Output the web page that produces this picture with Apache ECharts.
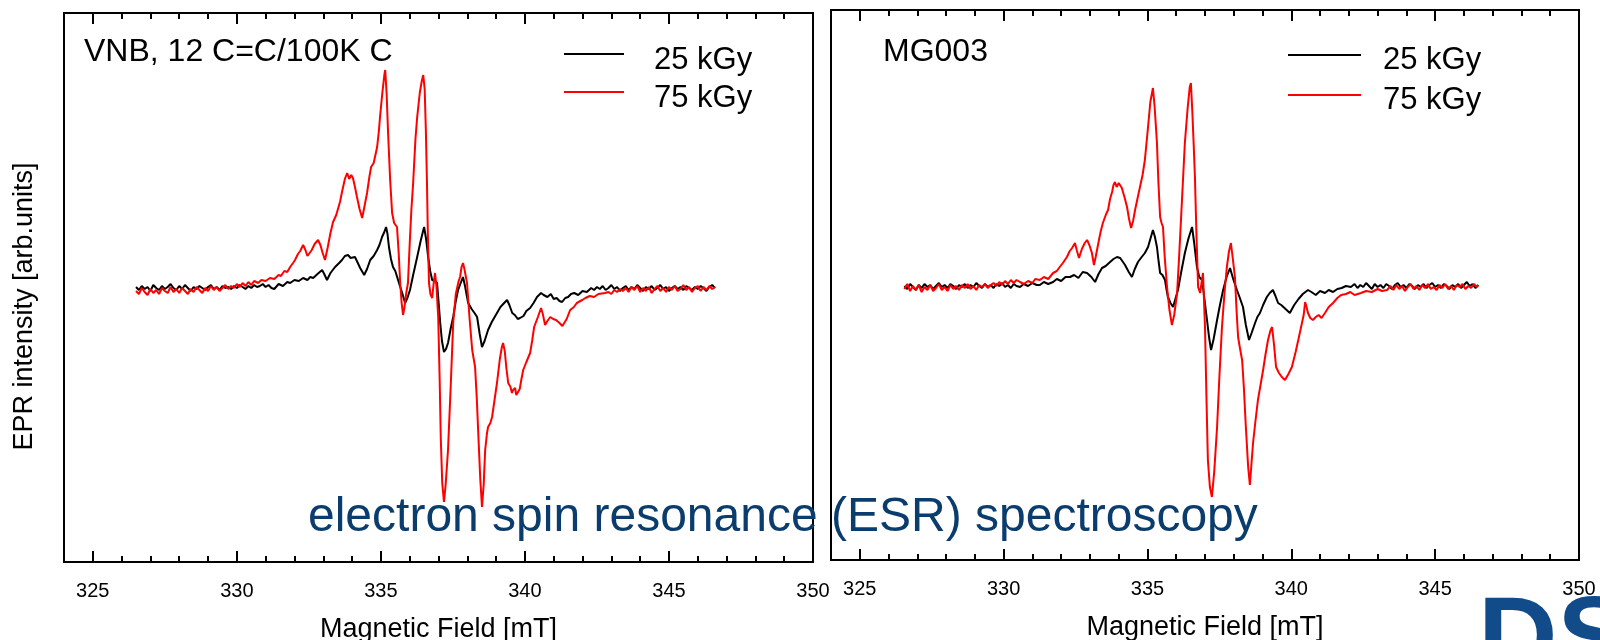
<!DOCTYPE html>
<html>
<head>
<meta charset="utf-8">
<script src="https://cdn.jsdelivr.net/npm/echarts@6/dist/echarts.min.js"></script>
<style>
html,body{margin:0;padding:0;background:#fff;}
#chart{width:1600px;height:640px;}
</style>
</head>
<body>
<div id="chart"></div>
<script>
// ---------- data (x: magnetic field in mT, y: EPR intensity, arb. units) ----------
const majorTicks = [325, 330, 335, 340, 345, 350];
const minorTicks = [326,327,328,329,331,332,333,334,336,337,338,339,341,342,343,344,346,347,348,349];
const seriesNames = ['25 kGy', '75 kGy'];
const panelTitles = ['VNB, 12 C=C/100K C', 'MG003'];

const vnb25 = [
[326.5,2],[326.6,-1],[326.7,3],[326.8,0],[326.9,2],[327.0,-2],[327.1,4],[327.2,1],[327.3,-1],[327.4,3],
[327.5,0],[327.6,2],[327.7,5],[327.8,1],[327.9,-1],[328.0,3],[328.1,0],[328.2,4],[328.3,1],[328.4,-2],
[328.5,2],[328.6,0],[328.7,3],[328.8,1],[328.9,-1],[329.0,2],[329.1,4],[329.2,0],[329.3,2],[329.4,-1],
[329.5,3],[329.6,1],[329.7,2],[329.8,0],[329.9,3],[330.0,1],[330.1,4],[330.2,2],[330.3,0],[330.4,3],
[330.5,1],[330.6,4],[330.7,2],[330.8,3],[330.9,5],[331.0,2],[331.1,4],[331.2,1],[331.3,0],
[331.45,5],[331.6,3],[331.75,7],[331.85,6],[332.0,9],[332.15,8],[332.3,11],[332.45,9],[332.55,12],[332.65,11],
[332.8,15],[332.96,19],[333.05,14],[333.13,9],[333.25,16],[333.41,22],[333.55,26],[333.65,29],[333.75,33],[333.86,34],
[333.95,31],[334.10,32],[334.2,26],[334.28,21],[334.42,14],[334.52,20],[334.63,29],[334.75,33],[334.87,39],[334.95,44],
[335.04,52],[335.12,57],[335.18,62],[335.23,55],[335.28,42],[335.35,30],[335.42,22],[335.5,18],[335.56,16],[335.65,4],
[335.74,-4],[335.84,-14],[335.92,-9],[336.01,-1],[336.12,14],[336.26,32],[336.38,48],[336.5,62],[336.57,50],[336.64,32],
[336.71,18],[336.78,9],[336.88,8],[336.95,6],[337.0,-12],[337.06,-34],[337.12,-52],[337.19,-63],[337.26,-60],[337.33,-54],
[337.42,-40],[337.51,-28],[337.6,-12],[337.68,-1],[337.77,6],[337.85,12],[337.92,3],[338.03,-14],[338.15,-20],[338.25,-24],
[338.34,-28],[338.43,-45],[338.51,-58],[338.6,-52],[338.72,-41],[338.85,-33],[338.95,-28],[339.03,-24],[339.15,-18],[339.28,-14],
[339.38,-11],[339.46,-16],[339.56,-24],[339.65,-26],[339.75,-30],[339.83,-29],[339.95,-27],[340.05,-22],[340.18,-19],[340.3,-14],
[340.42,-8],[340.56,-4],[340.65,-6],[340.78,-8],[340.9,-5],[341.0,-10],[341.1,-9],[341.2,-12],[341.29,-13],[341.4,-9],
[341.5,-8],[341.6,-5],[341.71,-4],[341.85,-6],[342.0,-2],[342.15,-3],[342.3,1],[342.4,-1],[342.5,2],
[342.6,0],[342.7,3],[342.8,-1],[342.9,1],[343.0,4],[343.1,0],[343.2,2],[343.3,-2],[343.4,1],[343.5,3],
[343.6,-1],[343.7,2],[343.8,0],[343.9,4],[344.0,1],[344.1,-2],[344.2,2],[344.3,0],[344.4,3],[344.5,-1],
[344.6,1],[344.7,4],[344.8,0],[344.9,2],[345.0,-2],[345.1,1],[345.2,3],[345.3,0],[345.4,2],[345.5,-1],
[345.6,3],[345.7,1],[345.8,-1],[345.9,2],[346.0,0],[346.1,3],[346.2,1],[346.3,-2],[346.4,2],[346.5,4],[346.6,1]
];

const vnb75 = [
[326.5,-2],[326.6,-5],[326.7,1],[326.8,-3],[326.9,-6],[327.0,0],[327.1,-4],[327.2,-1],[327.3,-5],[327.4,1],
[327.5,-2],[327.6,-4],[327.7,2],[327.8,-3],[327.9,0],[328.0,-4],[328.1,1],[328.2,-2],[328.3,-5],[328.4,0],
[328.5,-3],[328.6,2],[328.7,-1],[328.8,-4],[328.9,1],[329.0,-2],[329.1,3],[329.2,-1],[329.3,2],[329.4,-2],
[329.5,1],[329.6,4],[329.7,0],[329.8,3],[329.9,1],[330.0,5],[330.1,2],[330.2,6],[330.3,3],[330.4,7],
[330.5,4],[330.6,8],[330.74,6],[330.85,9],[331.0,8],[331.15,11],[331.3,10],[331.45,14],[331.53,13],[331.65,18],
[331.75,17],[331.85,22],[331.95,26],[332.02,29],[332.12,35],[332.2,38],[332.3,44],[332.38,39],[332.45,33],[332.51,31],
[332.6,39],[332.7,45],[332.82,49],[332.9,44],[332.98,36],[333.06,29],[333.15,41],[333.25,56],[333.34,67],[333.45,74],
[333.58,87],[333.65,97],[333.75,110],[333.83,116],[333.9,110],[333.97,114],[334.03,111],[334.1,102],[334.17,92],[334.26,80],
[334.35,71],[334.44,84],[334.52,96],[334.6,112],[334.66,122],[334.75,126],[334.87,142],[334.93,158],[334.97,172],[335.05,196],
[335.12,214],[335.15,219],[335.2,195],[335.25,156],[335.32,110],[335.39,76],[335.46,66],[335.56,62],[335.62,35],[335.67,6],
[335.72,-14],[335.77,-26],[335.82,-18],[335.88,-4],[335.94,6],[336.0,45],[336.06,80],[336.12,106],[336.2,150],[336.26,172],
[336.35,196],[336.42,208],[336.47,214],[336.52,200],[336.56,160],[336.6,106],[336.63,55],[336.67,6],[336.72,-5],[336.78,-9],
[336.83,5],[336.88,16],[336.93,2],[336.99,-28],[337.04,-90],[337.08,-150],[337.13,-194],[337.19,-213],[337.25,-195],[337.33,-161],
[337.42,-100],[337.51,-34],[337.6,-5],[337.7,8],[337.75,12],[337.8,22],[337.85,26],[337.9,20],[337.99,6],[338.08,-30],
[338.17,-61],[338.27,-78],[338.33,-110],[338.38,-144],[338.45,-190],[338.51,-218],[338.57,-195],[338.62,-161],[338.68,-145],[338.72,-138],
[338.8,-134],[338.86,-128],[338.95,-110],[339.03,-94],[339.13,-70],[339.2,-58],[339.24,-54],[339.3,-62],[339.36,-80],[339.42,-94],
[339.5,-98],[339.55,-104],[339.59,-101],[339.66,-99],[339.7,-106],[339.76,-108],[339.82,-100],[339.88,-90],[339.94,-81],[340.05,-73],
[340.18,-64],[340.25,-52],[340.32,-38],[340.45,-28],[340.56,-19],[340.62,-25],[340.7,-36],[340.78,-32],[340.88,-28],[340.98,-30],
[341.08,-31],[341.2,-34],[341.3,-37],[341.36,-39],[341.45,-30],[341.57,-21],[341.7,-18],[341.8,-14],[341.99,-11],[342.1,-9],
[342.25,-7],[342.4,-8],[342.55,-5],[342.78,-4],[342.9,-3],[343.0,-5],[343.1,-1],[343.2,-3],[343.3,0],[343.4,-2],
[343.5,1],[343.6,-3],[343.7,2],[343.8,-1],[343.9,3],[344.0,-3],[344.1,1],[344.2,-2],[344.3,2],[344.4,-4],
[344.5,0],[344.6,3],[344.7,-2],[344.8,1],[344.9,-3],[345.0,2],[345.1,-1],[345.2,3],[345.3,-2],[345.4,0],
[345.5,4],[345.6,-1],[345.7,2],[345.8,-3],[345.9,1],[346.0,3],[346.1,-2],[346.2,2],[346.3,-1],[346.4,3],[346.5,0],[346.6,2]
];

const mg25 = [
[326.55,1],[326.65,-2],[326.75,3],[326.85,0],[326.95,-3],[327.05,2],[327.15,-1],[327.25,3],[327.35,0],[327.45,2],
[327.55,-2],[327.65,1],[327.75,4],[327.85,0],[327.95,2],[328.05,-1],[328.15,3],[328.25,1],[328.35,-2],[328.45,2],
[328.55,0],[328.65,3],[328.75,-1],[328.85,2],[328.95,0],[329.05,4],[329.15,1],[329.25,-1],[329.35,3],[329.45,0],
[329.55,2],[329.65,-1],[329.75,3],[329.85,1],[329.95,4],[330.05,0],[330.15,2],[330.25,-1],[330.35,3],[330.45,1],
[330.57,0],[330.7,3],[330.85,1],[331.0,4],[331.15,2],[331.26,2],[331.4,5],[331.55,3],[331.72,5],[331.85,8],
[332.0,6],[332.15,10],[332.31,10],[332.45,12],[332.6,9],[332.75,15],[332.9,14],[333.05,10],[333.18,5],[333.3,13],
[333.42,19],[333.55,21],[333.7,25],[333.82,28],[333.94,30],[334.05,29],[334.15,25],[334.22,22],[334.35,15],[334.46,10],
[334.56,18],[334.67,25],[334.8,30],[334.91,34],[335.02,40],[335.12,50],[335.19,57],[335.26,50],[335.33,40],[335.39,25],
[335.44,14],[335.52,12],[335.61,7],[335.66,-2],[335.71,-10],[335.8,-16],[335.89,-20],[335.97,-12],[336.06,-3],[336.18,16],
[336.3,34],[336.42,48],[336.55,60],[336.62,45],[336.72,20],[336.8,10],[336.9,7],[336.98,-12],[337.07,-33],[337.14,-50],
[337.21,-63],[337.3,-52],[337.42,-33],[337.52,-18],[337.63,-3],[337.75,10],[337.87,19],[337.98,8],[338.11,-3],[338.2,-10],
[338.32,-20],[338.42,-38],[338.53,-53],[338.62,-46],[338.74,-36],[338.82,-30],[338.91,-26],[339.02,-18],[339.15,-10],[339.25,-6],
[339.36,-3],[339.45,-9],[339.54,-16],[339.65,-18],[339.8,-22],[339.95,-26],[340.1,-18],[340.25,-12],[340.4,-7],[340.58,-3],
[340.7,-5],[340.85,-8],[341.0,-4],[341.17,-6],[341.3,-3],[341.45,-5],[341.6,-2],[341.75,-1],[341.9,1],[342.07,0],
[342.2,3],[342.3,-1],[342.4,2],[342.5,0],[342.6,4],[342.7,1],[342.8,-2],[342.9,3],[343.0,0],[343.1,2],
[343.2,-1],[343.3,3],[343.4,1],[343.5,-2],[343.6,2],[343.7,4],[343.8,0],[343.9,2],[344.0,-1],[344.1,3],
[344.2,1],[344.3,-2],[344.4,2],[344.5,0],[344.6,3],[344.7,-1],[344.8,2],[344.9,4],[345.0,0],[345.1,2],
[345.2,-1],[345.3,3],[345.4,1],[345.5,-2],[345.6,2],[345.7,0],[345.8,3],[345.9,-1],[346.0,2],[346.1,5],
[346.2,1],[346.3,3],[346.4,-1],[346.5,2]
];

const mg75 = [
[326.55,-2],[326.65,3],[326.75,-4],[326.85,1],[326.95,-3],[327.05,2],[327.15,-5],[327.25,0],[327.35,-3],[327.45,2],
[327.55,-4],[327.65,-1],[327.75,3],[327.85,-3],[327.95,0],[328.05,-4],[328.15,2],[328.25,-2],[328.35,1],[328.45,-3],
[328.55,2],[328.65,-1],[328.75,3],[328.85,-2],[328.95,1],[329.05,-3],[329.15,2],[329.25,0],[329.35,3],[329.45,-1],
[329.55,2],[329.65,4],[329.75,1],[329.85,5],[329.95,2],[330.05,6],[330.15,3],[330.25,7],[330.35,4],[330.45,7],
[330.57,5],[330.7,3],[330.85,6],[331.0,4],[331.1,8],[331.26,7],[331.4,10],[331.55,8],[331.72,14],[331.85,16],
[331.95,20],[332.06,24],[332.2,30],[332.3,36],[332.38,39],[332.48,44],[332.55,36],[332.62,29],[332.72,38],[332.82,44],
[332.9,47],[332.98,42],[333.07,34],[333.14,22],[333.2,30],[333.28,42],[333.37,55],[333.45,64],[333.55,72],[333.63,77],
[333.7,88],[333.77,95],[333.82,102],[333.87,105],[333.93,100],[334.0,104],[334.11,99],[334.2,90],[334.29,80],[334.36,68],
[334.43,59],[334.5,66],[334.57,77],[334.65,88],[334.74,100],[334.83,112],[334.91,127],[334.97,145],[335.02,160],[335.1,185],
[335.19,199],[335.25,180],[335.33,144],[335.38,105],[335.44,70],[335.49,64],[335.54,60],[335.6,30],[335.68,0],[335.76,-22],
[335.85,-38],[335.93,-28],[336.03,-6],[336.1,30],[336.2,87],[336.3,144],[336.4,180],[336.47,200],[336.51,204],[336.56,175],
[336.61,140],[336.65,110],[336.7,55],[336.76,0],[336.83,-6],[336.93,14],[337.0,-40],[337.05,-110],[337.1,-173],[337.17,-200],
[337.24,-210],[337.32,-185],[337.42,-140],[337.5,-90],[337.59,-40],[337.68,-5],[337.76,20],[337.83,35],[337.9,44],[337.96,30],
[338.04,10],[338.1,-25],[338.15,-50],[338.22,-62],[338.29,-73],[338.35,-100],[338.42,-140],[338.5,-180],[338.56,-198],[338.62,-175],
[338.67,-156],[338.75,-135],[338.84,-113],[338.93,-98],[339.02,-83],[339.1,-68],[339.19,-53],[339.27,-44],[339.33,-40],[339.4,-58],
[339.47,-80],[339.57,-86],[339.67,-90],[339.78,-93],[339.9,-87],[340.02,-80],[340.15,-65],[340.25,-52],[340.37,-36],[340.43,-28],
[340.48,-15],[340.53,-20],[340.58,-26],[340.66,-31],[340.75,-33],[340.85,-30],[340.95,-28],[341.05,-31],[341.17,-26],[341.3,-20],
[341.45,-16],[341.6,-11],[341.73,-8],[341.9,-7],[342.05,-5],[342.2,-8],[342.42,-6],[342.6,-4],[342.8,-5],[343.0,-2],
[343.15,-4],[343.33,-3],[343.45,1],[343.55,-3],[343.65,2],[343.75,-2],[343.85,1],[343.95,-4],[344.05,0],[344.15,3],
[344.25,-2],[344.35,1],[344.45,-3],[344.55,2],[344.65,-1],[344.75,3],[344.85,-2],[344.95,0],[345.05,-3],[345.15,2],
[345.25,-1],[345.35,3],[345.45,-2],[345.55,1],[345.65,-3],[345.75,2],[345.85,0],[345.95,3],[346.05,-2],[346.15,1],
[346.25,-1],[346.35,3],[346.45,0],[346.5,2]
];

// ---------- chart ----------
const FONT = "'Liberation Sans', Arial, sans-serif";
const chart = echarts.init(document.getElementById('chart'), null, {renderer: 'canvas'});

const grids = [
  {left: 64, top: 13, width: 749, height: 549},
  {left: 831, top: 10, width: 748, height: 550}
];

function xAxesFor(gi) {
  const base = {type: 'value', gridIndex: gi, min: 324, max: 350,
    splitLine: {show: false}, axisLine: {show: false, onZero: false}};
  const tick = (len, vals) => ({show: true, inside: true, length: len, customValues: vals,
    lineStyle: {color: '#000', width: 2}});
  return [
    Object.assign({}, base, {
      position: 'bottom',
      name: 'Magnetic Field [mT]', nameLocation: 'middle', nameGap: 54,
      nameTextStyle: {fontFamily: FONT, fontSize: 27, color: '#000'},
      axisTick: tick(11, majorTicks),
      axisLabel: {show: true, customValues: majorTicks, margin: 19,
        fontFamily: FONT, fontSize: 20, color: '#000'}
    }),
    Object.assign({}, base, {position: 'bottom', axisTick: tick(6, minorTicks), axisLabel: {show: false}}),
    Object.assign({}, base, {position: 'top', axisTick: tick(11, majorTicks), axisLabel: {show: false}}),
    Object.assign({}, base, {position: 'top', axisTick: tick(6, minorTicks), axisLabel: {show: false}})
  ];
}

// legend icon: a 2px line drawn at the top of the icon box, so it sits a little above the text centre
const iconLeft = 'path://M0,0H60V2H0Z M0,13.99H0.01V14H0Z';
const iconRight = 'path://M0,0H73V2H0Z M0,11.99H0.01V12H0Z';

const option = {
  animation: false,
  backgroundColor: '#fff',
  grid: grids.map(g => Object.assign({show: true, borderColor: '#000', borderWidth: 2,
    backgroundColor: 'transparent', containLabel: false, outerBoundsMode: 'none'}, g)),
  xAxis: xAxesFor(0).concat(xAxesFor(1)),
  yAxis: [
    {type: 'value', gridIndex: 0, min: -273, max: 276,
      name: 'EPR intensity [arb.units]', nameLocation: 'middle', nameRotate: 90, nameGap: 26,
      nameTextStyle: {fontFamily: FONT, fontSize: 27, color: '#000', padding: [0, 38, 0, 0]},
      axisLine: {show: false, onZero: false}, axisTick: {show: false}, axisLabel: {show: false}, splitLine: {show: false}},
    {type: 'value', gridIndex: 1, min: -273, max: 277,
      axisLine: {show: false, onZero: false}, axisTick: {show: false}, axisLabel: {show: false}, splitLine: {show: false}}
  ],
  legend: [
    {left: 564, top: 41, padding: 0, orient: 'vertical', itemGap: 0, itemWidth: 60, itemHeight: 14, icon: iconLeft,
      data: seriesNames, selectedMode: false,
      textStyle: {fontFamily: FONT, fontSize: 31, color: '#000', lineHeight: 38, padding: [0, 0, 0, 25]}},
    {left: 1288, top: 40, padding: 0, orient: 'vertical', itemGap: 0, itemWidth: 73, itemHeight: 12, icon: iconRight,
      data: seriesNames, selectedMode: false,
      textStyle: {fontFamily: FONT, fontSize: 31, color: '#000', lineHeight: 40, padding: [0, 0, 0, 17]}}
  ],
  series: [
    {name: seriesNames[0], type: 'line', xAxisIndex: 0, yAxisIndex: 0, data: vnb25, showSymbol: false,
      lineStyle: {color: '#000', width: 2}, itemStyle: {color: '#000'}},
    {name: seriesNames[1], type: 'line', xAxisIndex: 0, yAxisIndex: 0, data: vnb75, showSymbol: false,
      lineStyle: {color: '#ff0000', width: 2}, itemStyle: {color: '#ff0000'}},
    {name: seriesNames[0], type: 'line', xAxisIndex: 4, yAxisIndex: 1, data: mg25, showSymbol: false,
      lineStyle: {color: '#000', width: 2}, itemStyle: {color: '#000'}},
    {name: seriesNames[1], type: 'line', xAxisIndex: 4, yAxisIndex: 1, data: mg75, showSymbol: false,
      lineStyle: {color: '#ff0000', width: 2}, itemStyle: {color: '#ff0000'}}
  ],
  graphic: [
    {type: 'text', left: 84, top: 36, z: 10,
      style: {text: panelTitles[0], font: '32px ' + FONT, fill: '#000'}},
    {type: 'text', left: 883, top: 36, z: 10,
      style: {text: panelTitles[1], font: '32px ' + FONT, fill: '#000'}},
    {type: 'text', left: 308, top: 494, z: 20,
      style: {text: 'electron spin resonance (ESR) spectroscopy', font: '48px ' + FONT, fill: '#0a3c6e'}},
    {type: 'text', left: 1478, top: 588, z: 20,
      style: {text: 'DS', font: 'bold 110px ' + FONT, fill: '#124b8a'}}
  ]
};
chart.setOption(option);
</script>
</body>
</html>
